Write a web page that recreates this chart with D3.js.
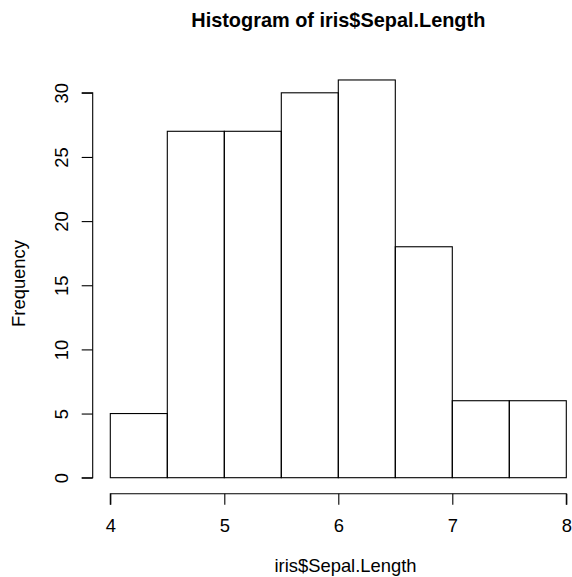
<!DOCTYPE html>
<html>
<head>
<meta charset="utf-8">
<script src="https://cdn.jsdelivr.net/npm/d3@7"></script>
<style>
  body { margin: 0; background: #fff; }
  text { font-family: "Liberation Sans", Arial, sans-serif; fill: #000; }
</style>
</head>
<body>
<div id="chart"></div>
<script>
// bin edges and counts
const binStarts = [4, 4.5, 5, 5.5, 6, 6.5, 7, 7.5];
const binWidth = 0.5;
const counts = [5, 27, 27, 30, 31, 18, 6, 6];
const xTicks = [4, 5, 6, 7, 8];
const yTicks = [0, 5, 10, 15, 20, 25, 30];

const width = 572, height = 577;
const labelSize = 18.4;

const svg = d3.select("#chart").append("svg")
    .attr("width", width)
    .attr("height", height);

const x = d3.scaleLinear().domain([4, 8]).range([110.3, 566.3]);
const y = d3.scaleLinear().domain([0, 30]).range([477.7, 92.8]);

// bars
svg.selectAll("rect.bar")
    .data(counts)
    .enter()
    .append("rect")
    .attr("class", "bar")
    .attr("x", (d, i) => x(binStarts[i]))
    .attr("y", d => y(d))
    .attr("width", (d, i) => x(binStarts[i] + binWidth) - x(binStarts[i]))
    .attr("height", d => y(0) - y(d))
    .attr("fill", "none")
    .attr("stroke", "#000")
    .attr("stroke-width", 1.1);

// x axis
const xAxis = svg.append("g")
    .attr("transform", "translate(0,493.7)")
    .call(d3.axisBottom(x).tickValues(xTicks).tickSize(11).tickFormat(d3.format("d")));
xAxis.select(".domain").attr("d", `M${x(4)},11V0H${x(8)}V11`);

// y axis
const yAxis = svg.append("g")
    .attr("transform", "translate(92.7,0)")
    .call(d3.axisLeft(y).tickValues(yTicks).tickSize(11).tickFormat(d3.format("d")));
yAxis.select(".domain").attr("d", `M-11,${y(0)}H0V${y(30)}H-11`);

svg.selectAll(".tick line, .domain").attr("stroke", "#000").attr("stroke-width", 1.1);
svg.selectAll(".tick text").attr("font-size", labelSize).attr("fill", "#000")
    .style("font-family", "'Liberation Sans', Arial, sans-serif");

xAxis.selectAll(".tick text")
    .attr("dy", null)
    .attr("y", 38.5);

yAxis.selectAll(".tick text")
    .attr("x", null).attr("dy", null)
    .attr("text-anchor", "middle")
    .attr("transform", "translate(-25,0) rotate(-90)")
    .attr("y", 0);

// title and labels
svg.append("text")
    .attr("x", 338.3)
    .attr("y", 27)
    .attr("text-anchor", "middle")
    .attr("font-size", 19.9)
    .attr("font-weight", "bold")
    .text("Histogram of iris$Sepal.Length");

svg.append("text")
    .attr("x", 345.5)
    .attr("y", 572)
    .attr("text-anchor", "middle")
    .attr("font-size", labelSize)
    .text("iris$Sepal.Length");

svg.append("text")
    .attr("transform", "translate(25,283.5) rotate(-90)")
    .attr("text-anchor", "middle")
    .attr("font-size", labelSize)
    .text("Frequency");
</script>
</body>
</html>
